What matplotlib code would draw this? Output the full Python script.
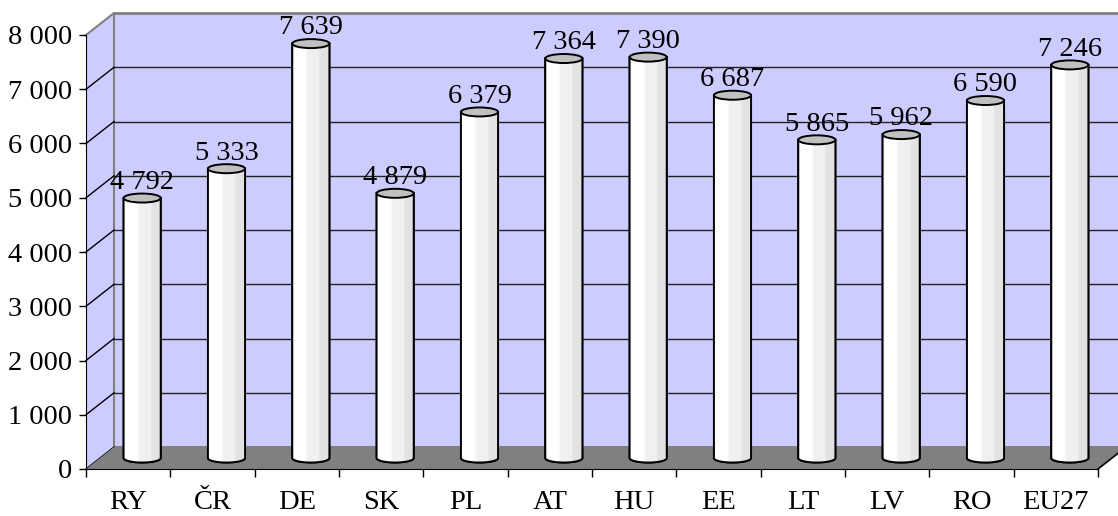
import numpy as np
import matplotlib.pyplot as plt
from matplotlib.patches import Polygon, Ellipse
from matplotlib.ticker import FixedLocator, FuncFormatter

# data
countries = ["RY", "ČR", "DE", "SK", "PL", "AT", "HU", "EE", "LT", "LV", "RO", "EU27"]
values = [4792, 5333, 7639, 4879, 6379, 7364, 7390, 6687, 5865, 5962, 6590, 7246]
yticks = [0, 1000, 2000, 3000, 4000, 5000, 6000, 7000, 8000]

plt.rcParams["font.family"] = ["Liberation Serif", "DejaVu Serif"]
fs = 20.5

fig = plt.figure(figsize=(11.18, 5.16), dpi=100)
ax = fig.add_axes([86 / 1118, 47 / 516, 1012 / 1118, 434 / 516])
n = len(countries)
ymax = yticks[-1]
ax.set_xlim(0, n)
ax.set_ylim(0, ymax)

# fake 3d depth (in data units)
dx = 0.332
dy = 405
wall = "#CCCCFF"
floor = "#808080"

# back wall + side wall
ax.add_patch(Polygon([(dx, dy), (n + dx, dy), (n + dx, ymax + dy), (dx, ymax + dy)],
                     closed=True, fc=wall, ec="none", zorder=0, clip_on=False))
ax.add_patch(Polygon([(0, 0), (dx, dy), (dx, ymax + dy), (0, ymax)],
                     closed=True, fc=wall, ec="none", zorder=0, clip_on=False))
ax.plot([0, dx, dx, n + dx], [ymax, ymax + dy, dy, dy], color="#808080", lw=1.5,
        zorder=1, clip_on=False)
ax.plot([dx, n + dx], [ymax + dy, ymax + dy], color="#808080", lw=2, zorder=1, clip_on=False)
for v in yticks[1:-1]:
    ax.plot([dx, n + dx], [v + dy, v + dy], color="#222222", lw=1, zorder=1, clip_on=False)
for v in yticks[:-1]:
    ax.plot([0, dx], [v, v + dy], color="black", lw=1, zorder=1, clip_on=False)

# floor
ax.add_patch(Polygon([(0, 0), (n, 0), (n + dx, dy), (dx, dy)],
                     closed=True, fc=floor, ec="none", zorder=1, clip_on=False))
ax.plot([n, n + dx], [0, dy], color="black", lw=1.2, zorder=2, clip_on=False)

# cylinders
w = 0.44
eh = 166
shade = np.array([1.0] * 14 + [0.985, 0.97] + [0.945] * 12 + [0.92, 0.9] + [0.89] * 9 + [0.87])
grad = np.repeat(shade[None, :, None], 3, axis=2)
t = np.linspace(np.pi, 2 * np.pi, 40)
for i, v in enumerate(values):
    cx = i + 0.5 + dx / 2
    base = dy / 2
    top = v + dy / 2
    pts = [(cx - w / 2, top)]
    pts += list(zip(cx + w / 2 * np.cos(t), base + eh / 2 * np.sin(t)))
    pts += [(cx + w / 2, top)]
    body = Polygon(pts, closed=True, fc="white", ec="black", lw=1.4, zorder=3)
    ax.add_patch(body)
    im = ax.imshow(grad, extent=[cx - w / 2, cx + w / 2, base - eh, top], aspect="auto",
                   zorder=3.5, interpolation="bilinear")
    im.set_clip_path(body)
    ax.add_patch(Polygon(pts, closed=True, fc="none", ec="black", lw=1.4, zorder=4))
    ax.add_patch(Ellipse((cx, top), w, eh, fc="#C0C0C0", ec="black", lw=1.4, zorder=5))
    ax.annotate(f"{v:,}".replace(",", " "), (cx, top + eh / 2), xytext=(0, -1),
                textcoords="offset points", ha="center", va="bottom", fontsize=fs, zorder=6)

ax.set_xlim(0, n)
ax.set_ylim(0, ymax)

# axes
for s in ["top", "right"]:
    ax.spines[s].set_visible(False)
ax.spines["left"].set_color("black")
ax.spines["bottom"].set_color("black")
ax.spines["left"].set_zorder(2)
ax.spines["bottom"].set_zorder(2)
ax.set_facecolor("none")
ax.set_yticks(yticks)
ax.yaxis.set_major_formatter(FuncFormatter(lambda v, p: f"{int(v):,}".replace(",", " ")))
ax.tick_params(axis="y", direction="out", length=5, width=1, pad=5, labelsize=fs)
ax.xaxis.set_major_locator(FixedLocator(range(n + 1)))
ax.xaxis.set_major_formatter(FuncFormatter(lambda v, p: ""))
ax.xaxis.set_minor_locator(FixedLocator([i + 0.5 for i in range(n)]))
ax.set_xticklabels(countries, minor=True)
ax.tick_params(axis="x", which="major", direction="out", length=6, width=1)
ax.tick_params(axis="x", which="minor", length=0, pad=15, labelsize=fs)

fig.savefig("out.png", dpi=100)
